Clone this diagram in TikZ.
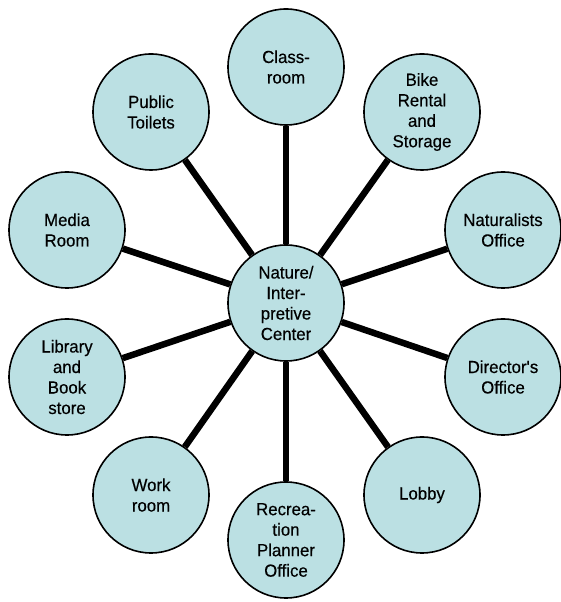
\documentclass[tikz,border=0pt]{standalone}
\usepackage{fontspec}
\setmainfont{Liberation Sans}[FakeBold=0.35, FakeStretch=0.96]
\definecolor{roomfill}{RGB}{187,224,227}

\begin{document}
\begin{tikzpicture}[x=1pt, y=1pt]
            \tikzstyle{room} = [circle, draw, line width=1.6pt, fill=roomfill, minimum size=116pt, inner sep=0pt, align=center, font=\fontsize{17.5}{20.5}\selectfont]
            \tikzstyle{link} = [line width=6.5pt]
            \useasboundingbox (0, 0) rectangle (560, 602);
            \node[room] (nature) at (286, 299) {Nature/\\Inter-\\pretive\\Center};
            \node[room] (classroom) at (286, 535) {Class-\\room};
            \node[room] (bike) at (422, 490) {Bike\\Rental\\and\\Storage};
            \node[room] (naturalists) at (503, 372) {Naturalists\\Office};
            \node[room] (director) at (503, 225) {Director\textquotesingle s\\Office};
            \node[room] (lobby) at (422, 107) {Lobby};
            \node[room] (recreation) at (286, 62) {Recrea-\\tion\\Planner\\Office};
            \node[room] (workroom) at (151, 107) {Work\\room};
            \node[room] (library) at (67, 225) {Library\\and\\Book\\store};
            \node[room] (media) at (67, 372) {Media\\Room};
            \node[room] (toilets) at (151, 490) {Public\\Toilets};
            \foreach \r in {classroom, bike, naturalists, director, lobby, recreation, workroom, library, media, toilets}
                \draw[link] (nature) -- (\r);
        \end{tikzpicture}
\end{document}
